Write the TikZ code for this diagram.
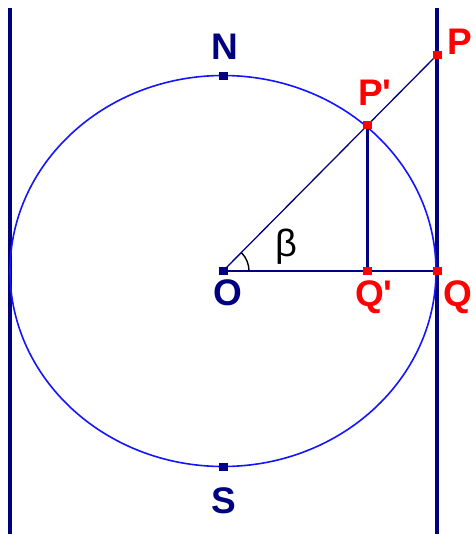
\documentclass[tikz,border=0pt]{standalone}
\usepackage{fontspec}
\newfontfamily\labfont{Liberation Sans}
\definecolor{navy}{RGB}{0,0,128}
\definecolor{cblue}{RGB}{20,20,255}
\definecolor{lred}{RGB}{255,0,0}
\begin{document}
\begin{tikzpicture}[x=1pt,y=-1pt,
  navyline/.style={draw=navy},
  marknavy/.style={fill=navy,minimum width=9pt,minimum height=8pt,inner sep=0pt,draw=none,rectangle},
  markred/.style={fill=lred,minimum width=9pt,minimum height=8pt,inner sep=0pt,draw=none,rectangle},
  labnavy/.style={text=navy,font=\labfont\bfseries\fontsize{37}{40}\selectfont,anchor=base,inner sep=0pt},
  labred/.style={text=lred,font=\labfont\bfseries\fontsize{37}{40}\selectfont,anchor=base,inner sep=0pt},
  lablack/.style={text=black,font=\labfont\fontsize{38}{40}\selectfont,anchor=base,inner sep=0pt}]
\useasboundingbox (0,0) rectangle (475,534);
% points
\coordinate (O) at (223,271);
\coordinate (P) at (437,55);
\coordinate (Pp) at (367,125);
\coordinate (Qp) at (367,271);
\coordinate (Q) at (437,271);
\coordinate (N) at (223,76);
\coordinate (S) at (223,467);
\coordinate (Lt) at (10,8);
\coordinate (Lb) at (10,534);
\coordinate (Rt) at (437,8);
\coordinate (Rb) at (437,534);
% vertical lines
\draw[navyline,line width=3.5pt] (Lt) -- (Lb);
\draw[navyline,line width=3.5pt] (Rt) -- (Rb);
% circle
\draw[cblue,line width=1.6pt] (O) ellipse [x radius=213, y radius=195.5];
% lines
\draw[navyline,line width=1.3pt] (O) -- (P);
\draw[navyline,line width=3pt] (Pp) -- (Qp);
\draw[navyline,line width=2.2pt] (O) -- (Q);
% angle mark
\draw[black,line width=1.4pt] (O) ++(26,0) arc[start angle=0,end angle=-45,radius=26];
% markers
\node[marknavy] (mO) at (O) {};
\node[marknavy] (mN) at (N) {};
\node[marknavy] (mS) at (S) {};
\node[markred] (mP) at (P) {};
\node[markred] (mPp) at (Pp) {};
\node[markred] (mQp) at (Qp) {};
\node[markred] (mQ) at (Q) {};
% labels
\node[labnavy] (lN) at (225,60) {N};
\node[labnavy] (lS) at (224,513) {S};
\node[labnavy] (lO) at (228,305) {O};
\node[labred] (lP) at (460,55) {P};
\node[labred,anchor=base west] (lPp) at (358,106) {P\char39};
\node[labred,anchor=base west] (lQp) at (355,306) {Q\char39};
\node[labred] (lQ) at (458,306) {Q};
\node[lablack] (lb) at (286,256) {β};
\end{tikzpicture}
\end{document}
